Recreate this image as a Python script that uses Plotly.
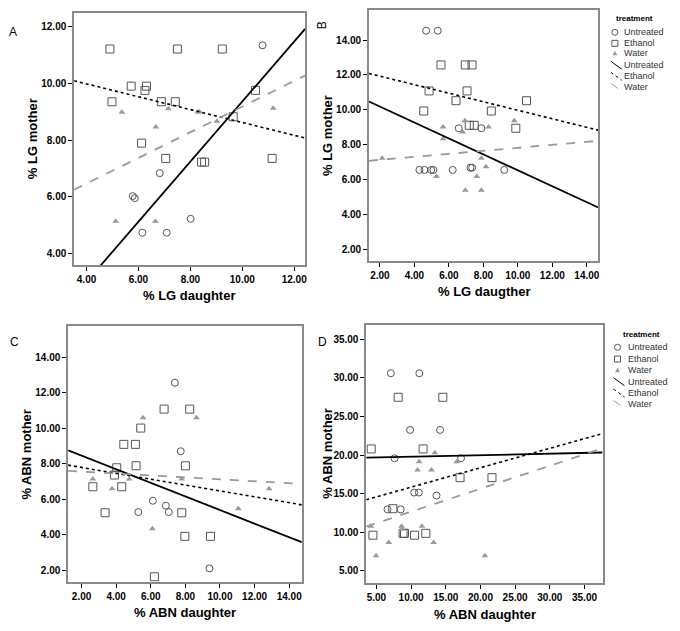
import numpy as np
import plotly.graph_objects as go

# ---------------- data ----------------
# Panel A: % LG daughter (x) vs % LG mother (y)
a_untreated_x = [10.78, 6.82, 5.78, 5.86, 8.01, 6.15, 7.09]
a_untreated_y = [11.34, 6.83, 6.02, 5.95, 5.22, 4.73, 4.73]
a_ethanol_x = [4.90, 7.50, 9.23, 5.72, 6.31, 6.25, 4.98, 6.88, 7.42, 10.51, 9.65, 6.12, 7.05, 8.43, 8.55, 11.15]
a_ethanol_y = [11.21, 11.21, 11.21, 9.90, 9.90, 9.75, 9.35, 9.35, 9.35, 9.75, 8.82, 7.89, 7.35, 7.22, 7.22, 7.35]
a_water_x = [5.36, 6.67, 7.15, 8.29, 8.36, 9.02, 11.19, 5.12, 6.65]
a_water_y = [8.98, 8.46, 9.10, 8.99, 8.99, 8.66, 9.12, 5.13, 5.13]

# Panel B: % LG daugther (x) vs % LG mother (y)
b_untreated_x = [4.68, 5.35, 6.57, 7.88, 4.29, 4.58, 4.97, 5.10, 6.22, 7.25, 7.35, 9.21]
b_untreated_y = [14.53, 14.53, 8.94, 8.94, 6.55, 6.55, 6.55, 6.55, 6.55, 6.68, 6.68, 6.55]
b_ethanol_x = [5.54, 6.95, 7.34, 4.85, 7.05, 6.41, 10.50, 4.54, 8.46, 7.18, 7.47, 9.88]
b_ethanol_y = [12.57, 12.57, 12.57, 11.08, 11.08, 10.52, 10.52, 9.93, 9.93, 9.11, 9.11, 8.94]
b_water_x = [2.13, 5.66, 5.66, 6.93, 6.80, 8.30, 9.79, 5.28, 7.88, 8.15, 7.62, 6.95, 7.88]
b_water_y = [7.22, 9.01, 8.34, 9.37, 8.72, 9.01, 9.37, 6.18, 7.22, 6.74, 6.18, 5.38, 5.38]

# Panel C: % ABN daughter (x) vs % ABN mother (y)
c_untreated_x = [7.39, 7.73, 6.12, 5.28, 6.87, 7.04, 9.39]
c_untreated_y = [12.57, 8.70, 5.91, 5.27, 5.63, 5.27, 2.09]
c_ethanol_x = [6.77, 8.25, 5.42, 4.44, 5.11, 5.15, 8.00, 4.03, 3.90, 2.65, 4.32, 3.36, 7.79, 7.97, 9.45, 6.21]
c_ethanol_y = [11.08, 11.08, 10.01, 9.09, 9.09, 7.88, 7.88, 7.77, 7.36, 6.70, 6.70, 5.23, 5.23, 3.90, 3.90, 1.62]
c_water_x = [5.55, 8.64, 2.65, 3.76, 4.75, 7.79, 6.09, 11.06, 12.84]
c_water_y = [10.59, 10.59, 7.13, 6.58, 7.13, 7.13, 4.33, 5.46, 6.58]

# Panel D: % ABN daughter (x) vs % ABN mother (y)
d_untreated_x = [7.09, 11.19, 9.86, 14.18, 7.62, 17.20, 10.44, 11.12, 13.66, 6.60, 8.50]
d_untreated_y = [30.60, 30.60, 23.26, 23.26, 19.59, 19.59, 15.15, 15.15, 14.77, 12.97, 12.97]
d_ethanol_x = [8.14, 14.57, 4.25, 11.73, 17.06, 21.66, 7.37, 4.50, 8.85, 9.05, 10.50, 12.12]
d_ethanol_y = [27.49, 27.49, 20.80, 20.80, 17.08, 17.08, 13.06, 9.63, 9.87, 9.87, 9.63, 9.87]
d_water_x = [13.42, 11.16, 16.58, 10.93, 12.94, 4.20, 8.63, 8.72, 11.56, 6.78, 13.25, 4.95, 20.63]
d_water_y = [20.32, 19.15, 19.15, 18.08, 18.08, 10.80, 10.78, 10.39, 10.78, 8.69, 8.69, 6.98, 6.98]

groups = ["Untreated", "Ethanol", "Water"]
legend_title = "treatment"

panels = [
    dict(letter="A", xt="% LG daughter", yt="% LG mother",
         data=[(a_untreated_x, a_untreated_y), (a_ethanol_x, a_ethanol_y), (a_water_x, a_water_y)],
         xr=[3.52, 12.42], yr=[3.59, 12.47], xt_vals=[4, 6, 8, 10, 12], yt_vals=[4, 6, 8, 10, 12],
         dom_x=[74.3, 306], dom_y=[13.3, 265]),
    dict(letter="B", xt="% LG daugther", yt="% LG mother",
         data=[(b_untreated_x, b_untreated_y), (b_ethanol_x, b_ethanol_y), (b_water_x, b_water_y)],
         xr=[1.36, 14.66], yr=[1.33, 15.72], xt_vals=[2, 4, 6, 8, 10, 12, 14], yt_vals=[2, 4, 6, 8, 10, 12, 14],
         dom_x=[370, 600], dom_y=[10, 261]),
    dict(letter="C", xt="% ABN daughter", yt="% ABN mother",
         data=[(c_untreated_x, c_untreated_y), (c_ethanol_x, c_ethanol_y), (c_water_x, c_water_y)],
         xr=[1.22, 14.73], yr=[1.34, 15.77], xt_vals=[2, 4, 6, 8, 10, 12, 14], yt_vals=[2, 4, 6, 8, 10, 12, 14],
         dom_x=[68.3, 302.7], dom_y=[326, 581.7]),
    dict(letter="D", xt="% ABN daughter", yt="% ABN mother",
         data=[(d_untreated_x, d_untreated_y), (d_ethanol_x, d_ethanol_y), (d_water_x, d_water_y)],
         xr=[3.53, 37.6], yr=[3.4, 36.85], xt_vals=[5, 10, 15, 20, 25, 30, 35], yt_vals=[5, 10, 15, 20, 25, 30, 35],
         dom_x=[367.3, 604.3], dom_y=[325, 583.3]),
]

W, H = 680, 631
FONT = "Liberation Sans, Arial, sans-serif"
MK_COL = "#555555"
TRI_COL = "#9a9a9a"

marker_styles = [
    dict(symbol="circle-open", size=7, color=MK_COL, line=dict(width=1, color=MK_COL)),
    dict(symbol="square-open", size=8, color=MK_COL, line=dict(width=1, color=MK_COL)),
    dict(symbol="triangle-up", size=6, color=TRI_COL, line=dict(width=0)),
]
line_styles = [
    dict(color="black", width=1.8, dash="solid"),
    dict(color="black", width=1.6, dash="dot"),
    dict(color="#9a9a9a", width=1.8, dash="dash"),
]

fig = go.Figure()
layout = dict(width=W, height=H, margin=dict(l=0, r=0, t=0, b=0),
              paper_bgcolor="white", plot_bgcolor="white", showlegend=False,
              font=dict(family=FONT, color="black"))
annotations = []
shapes = []

for i, p in enumerate(panels):
    n = "" if i == 0 else str(i + 1)
    xa, ya = "x" + n, "y" + n
    for g, (xs, ys) in enumerate(p["data"]):
        fig.add_trace(go.Scatter(x=xs, y=ys, mode="markers", marker=marker_styles[g],
                                 name=groups[g], xaxis=xa, yaxis=ya))
    for g, (xs, ys) in enumerate(p["data"]):
        k, b = np.polyfit(np.array(xs), np.array(ys), 1)
        lx = np.array(p["xr"])
        fig.add_trace(go.Scatter(x=lx, y=k * lx + b, mode="lines", line=line_styles[g],
                                 name=groups[g], xaxis=xa, yaxis=ya))
    ax_common = dict(showgrid=False, zeroline=False, showline=True, linecolor="#8a8a8a", linewidth=1.6,
                     mirror=True, ticks="outside", ticklen=4, tickcolor="black", tickwidth=1,
                     tickformat=".2f", tickfont=dict(family=FONT, size=10, color="black", weight="bold"))
    layout["xaxis" + n] = dict(ax_common, range=p["xr"], tickvals=p["xt_vals"],
                               domain=[p["dom_x"][0] / W, p["dom_x"][1] / W], anchor=ya)
    layout["yaxis" + n] = dict(ax_common, range=p["yr"], tickvals=p["yt_vals"],
                               domain=[1 - p["dom_y"][1] / H, 1 - p["dom_y"][0] / H], anchor=xa)

# axis titles and panel letters (pixel positions)
title_pos = [
    dict(xc=190, xy=295, yx=33.3, yy=139),
    dict(xc=485, xy=291.7, yx=328.3, yy=135.7),
    dict(xc=186, xy=612.7, yx=25.7, yy=454),
    dict(xc=486, xy=614, yx=328.3, yy=453.3),
]
letter_pos = [(13.5, 32.3, 0), (323.3, 25, -90), (15, 342.3, 0), (323.7, 342.3, 0)]
for p, tp, lp in zip(panels, title_pos, letter_pos):
    annotations.append(dict(x=tp["xc"] / W, y=1 - tp["xy"] / H, xref="paper", yref="paper",
                            text=p["xt"], showarrow=False, xanchor="center", yanchor="middle",
                            font=dict(family=FONT, size=13, color="black", weight="bold")))
    annotations.append(dict(x=tp["yx"] / W, y=1 - tp["yy"] / H, xref="paper", yref="paper",
                            text=p["yt"], showarrow=False, xanchor="center", yanchor="middle", textangle=-90,
                            font=dict(family=FONT, size=13, color="black", weight="bold")))
    annotations.append(dict(x=lp[0] / W, y=1 - lp[1] / H, xref="paper", yref="paper",
                            text=p["letter"], showarrow=False, xanchor="center", yanchor="middle",
                            textangle=lp[2], font=dict(family=FONT, size=12, color="black")))

# legends (for panels B and D)
legend_specs = [
    dict(title_x=636.7, title_y=18.3, mx=616.7, tx=624, ys=[32.3, 43.3, 53.3, 65.3, 76.3, 87.3]),
    dict(title_x=643.3, title_y=334, mx=619.3, tx=628, ys=[347.3, 359, 370.3, 381.7, 393, 404.3]),
]
for ls in legend_specs:
    annotations.append(dict(x=ls["title_x"] / W, y=1 - ls["title_y"] / H, xref="paper", yref="paper",
                            text=legend_title, showarrow=False, xanchor="center", yanchor="middle",
                            font=dict(family=FONT, size=8, color="black", weight="bold")))
    labels = groups + groups
    for j, (lab, yy) in enumerate(zip(labels, ls["ys"])):
        annotations.append(dict(x=ls["tx"] / W, y=1 - yy / H, xref="paper", yref="paper",
                                text=lab, showarrow=False, xanchor="left", yanchor="middle",
                                font=dict(family=FONT, size=9, color="#333333")))
        xa_ = ls["mx"] / W
        ya_ = 1 - yy / H
        if j == 0:
            shapes.append(dict(type="circle", xref="paper", yref="paper", xsizemode="pixel", ysizemode="pixel",
                               xanchor=xa_, yanchor=ya_, x0=-3, x1=3, y0=-3, y1=3,
                               line=dict(color=MK_COL, width=1)))
        elif j == 1:
            shapes.append(dict(type="rect", xref="paper", yref="paper", xsizemode="pixel", ysizemode="pixel",
                               xanchor=xa_, yanchor=ya_, x0=-3, x1=3, y0=-3, y1=3,
                               line=dict(color=MK_COL, width=1)))
        elif j == 2:
            shapes.append(dict(type="path", xref="paper", yref="paper", xsizemode="pixel", ysizemode="pixel",
                               xanchor=xa_, yanchor=ya_, path="M -2.5 -2 L 2.5 -2 L 0 2.5 Z",
                               fillcolor=TRI_COL, line=dict(width=0)))
        else:
            st = line_styles[j - 3]
            shapes.append(dict(type="line", xref="paper", yref="paper", xsizemode="pixel", ysizemode="pixel",
                               xanchor=xa_, yanchor=ya_, x0=-4, x1=7, y0=4, y1=-4,
                               line=dict(color=st["color"], width=1, dash=st["dash"])))

layout["annotations"] = annotations
layout["shapes"] = shapes
fig.update_layout(**layout)
fig.write_html("out.html", config={"displayModeBar": False},
               post_script="document.body.style.margin='0';document.body.style.padding='0';")
